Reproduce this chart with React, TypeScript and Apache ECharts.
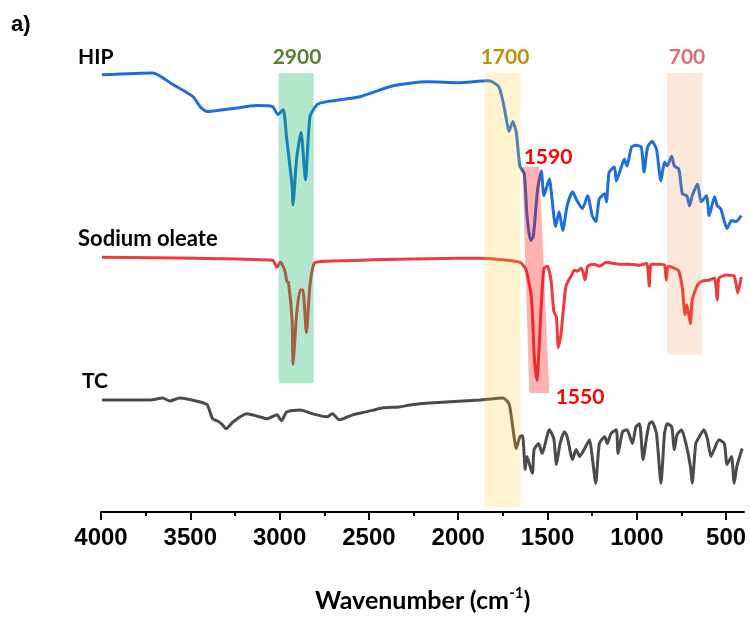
import React, { useEffect, useRef } from "react";
import * as echarts from "echarts";

// Wavenumbers (cm-1) and offset transmittance (a.u.)
const hipX = [3995, 3710, 3595, 3485, 3445, 3405, 3350, 3260, 3130, 3040, 3010, 2980, 2960, 2930, 2925, 2905, 2880, 2855, 2830, 2790, 2735, 2550, 2365, 2175, 1995, 1840, 1810, 1770, 1740, 1715, 1695, 1675, 1655, 1630, 1615, 1595, 1580, 1555, 1535, 1520, 1490, 1475, 1455, 1435, 1415, 1390, 1360, 1335, 1305, 1275, 1250, 1230, 1210, 1180, 1170, 1155, 1125, 1115, 1085, 1070, 1055, 1030, 1005, 975, 960, 940, 915, 890, 865, 845, 830, 805, 790, 765, 745, 720, 705, 690, 660, 640, 610, 595, 565, 550, 530, 510, 495, 470, 445, 415];
const hipY = [441, 443, 431, 419, 409, 404, 405, 407, 410, 409, 401, 406, 376, 329, 310, 356, 383, 335, 399, 411, 414, 419, 430, 434, 433, 435, 434, 428, 406, 384, 394, 383, 349, 341, 299, 274, 278, 326, 344, 319, 336, 316, 288, 303, 284, 309, 323, 314, 306, 319, 299, 293, 316, 321, 313, 343, 348, 334, 349, 356, 349, 368, 370, 368, 343, 368, 374, 366, 334, 353, 349, 359, 349, 346, 321, 319, 309, 319, 331, 313, 319, 299, 318, 309, 306, 293, 286, 294, 293, 299];

const oleateX = [3995, 3040, 3015, 2995, 2970, 2960, 2950, 2930, 2925, 2905, 2885, 2870, 2850, 2830, 2805, 2735, 2330, 1995, 1880, 1655, 1620, 1590, 1575, 1560, 1535, 1520, 1500, 1480, 1465, 1450, 1440, 1425, 1405, 1395, 1365, 1350, 1335, 1310, 1290, 1275, 1240, 1210, 1170, 1135, 1100, 1040, 985, 945, 930, 920, 875, 845, 835, 825, 790, 765, 745, 730, 720, 700, 690, 660, 635, 595, 565, 550, 540, 500, 455, 435, 415];
const oleateY = [257, 254, 247, 252, 243, 233, 231, 193, 149, 199, 224, 224, 181, 229, 251, 253, 255, 256, 256, 252, 244, 216, 159, 133, 209, 246, 248, 233, 203, 196, 166, 179, 216, 229, 239, 244, 243, 246, 234, 248, 250, 248, 252, 251, 250, 250, 249, 251, 228, 250, 250, 249, 234, 248, 246, 243, 226, 199, 209, 190, 214, 229, 233, 234, 236, 214, 236, 239, 238, 221, 237];

const tcX = [3995, 3725, 3655, 3615, 3560, 3445, 3405, 3375, 3350, 3325, 3300, 3260, 3185, 3110, 3070, 3015, 2990, 2960, 2885, 2815, 2735, 2705, 2665, 2590, 2515, 2425, 2330, 2270, 2160, 1880, 1750, 1715, 1695, 1675, 1655, 1640, 1625, 1615, 1585, 1575, 1550, 1530, 1490, 1465, 1450, 1430, 1405, 1390, 1360, 1340, 1320, 1295, 1265, 1250, 1230, 1210, 1180, 1165, 1145, 1115, 1105, 1080, 1055, 1025, 1005, 985, 965, 945, 930, 915, 890, 865, 845, 830, 805, 790, 775, 750, 725, 700, 690, 670, 650, 625, 605, 585, 565, 540, 510, 495, 470, 455, 440, 410];
const tcY = [113, 113, 115, 112, 115, 111, 108, 94, 92, 89, 84, 91, 99, 96, 94, 98, 92, 101, 103, 99, 96, 99, 93, 98, 101, 105, 106, 108, 110, 113, 115, 109, 86, 64, 76, 77, 43, 56, 39, 63, 69, 59, 83, 74, 48, 69, 81, 76, 53, 63, 56, 63, 73, 56, 29, 69, 76, 69, 79, 83, 59, 81, 83, 69, 86, 89, 53, 76, 89, 91, 79, 29, 79, 89, 86, 63, 78, 83, 69, 46, 29, 69, 76, 83, 74, 56, 64, 73, 69, 48, 56, 29, 46, 64];

const seriesNames = ["HIP", "Sodium oleate", "TC"];

// Highlighted bands (cm-1)
const bandLabels = ["2900", "1700", "700", "1590"];
const bandTopFrom = [3005, 1853, 830, 1641];
const bandTopTo = [2809, 1652, 634, 1546];
const bandBottomFrom = [3005, 1853, 830, 1602];
const bandBottomTo = [2809, 1652, 634, 1490];
const bandTopLevel = [443, 443, 443, 348];
const bandBottomLevel = [130, 5, 159, 120];

const majorTicks = [500, 1000, 1500, 2000, 2500, 3000, 3500, 4000];
const minorTicks = [750, 1250, 1750, 2250, 2750, 3250, 3750];

const zip = (xs: number[], ys: number[]) => xs.map((x, i) => [x, ys[i]]);

export default function App() {
  const ref = useRef<HTMLDivElement>(null);
  useEffect(() => {
    if (!ref.current) return;
    const chart = echarts.init(ref.current, undefined, { renderer: "svg" });
    const bandFill = [
      "rgba(0,176,90,0.30)",
      "rgba(255,200,40,0.22)",
      "rgba(237,125,49,0.18)",
      "rgba(255,0,0,0.30)",
    ];
    const bandData = bandLabels.map((_, i) => [
      bandTopFrom[i], bandTopTo[i], bandBottomFrom[i], bandBottomTo[i], bandTopLevel[i], bandBottomLevel[i],
    ]);
    const lab = (text: string, x: number, y: number, color: string, align = "center", size = 21) => ({
      type: "text",
      x,
      y,
      style: {
        text,
        fill: color,
        font: `bold ${size}px Lato`,
        textAlign: align,
        textVerticalAlign: "middle",
      },
    });
    chart.setOption({
      animation: false,
      grid: { left: 101, right: 6, top: 60, bottom: 103 },
      xAxis: [
        {
          type: "value",
          min: 400,
          max: 4000,
          inverse: true,
          position: "bottom",
          splitLine: { show: false },
          axisLine: { show: true, lineStyle: { color: "#000", width: 2 } },
          axisTick: { show: true, customValues: majorTicks, length: 8, lineStyle: { color: "#000", width: 2 } },
          axisLabel: {
            customValues: majorTicks,
            formatter: (v: number) => String(v),
            margin: 12,
            color: "#000",
            fontFamily: "Liberation Sans",
            fontWeight: "bold",
            fontSize: 24,
          },
          name: "Wavenumber (cm{sup|-1})",
          nameLocation: "middle",
          nameGap: 72,
          nameTextStyle: {
            color: "#000",
            fontFamily: "Lato",
            fontWeight: "bold",
            fontSize: 25,
            lineHeight: 30,
            rich: {
              sup: { fontFamily: "Lato", fontWeight: "bold", fontSize: 15, verticalAlign: "top", lineHeight: 15, color: "#000" },
            },
          },
        },
        {
          type: "value",
          min: 400,
          max: 4000,
          inverse: true,
          position: "bottom",
          splitLine: { show: false },
          axisLine: { show: false },
          axisLabel: { show: false },
          axisTick: { show: true, customValues: minorTicks, length: 4, lineStyle: { color: "#000", width: 2 } },
        },
      ],
      yAxis: { type: "value", min: 0, max: 456, show: false },
      series: [
        {
          name: seriesNames[0], type: "line", data: zip(hipX, hipY), showSymbol: false, smooth: 0.2,
          lineStyle: { color: "#1f6fdb", width: 3 }, z: 2,
        },
        {
          name: seriesNames[1], type: "line", data: zip(oleateX, oleateY), showSymbol: false, smooth: 0.2,
          lineStyle: { color: "#f0393b", width: 3 }, z: 2,
        },
        {
          name: seriesNames[2], type: "line", data: zip(tcX, tcY), showSymbol: false, smooth: 0.2,
          lineStyle: { color: "#4b4b4b", width: 3 }, z: 2,
        },
        {
          type: "custom",
          z: 5,
          silent: true,
          data: bandData,
          encode: { x: [0, 1, 2, 3], y: [4, 5] },
          renderItem: (params: any, api: any) => {
            const p1 = api.coord([api.value(0), api.value(4)]);
            const p2 = api.coord([api.value(1), api.value(4)]);
            const p3 = api.coord([api.value(3), api.value(5)]);
            const p4 = api.coord([api.value(2), api.value(5)]);
            return {
              type: "polygon",
              shape: { points: [p1, p2, p3, p4] },
              style: { fill: bandFill[params.dataIndex] },
            };
          },
        },
      ],
      graphic: [
        { type: "text", x: 11, y: 12, style: { text: "a)", fill: "#000", font: "bold 22px 'Liberation Sans'" } },
        lab(seriesNames[0], 78, 55, "#000", "left", 21),
        lab(seriesNames[1], 78, 237, "#000", "left", 22),
        lab(seriesNames[2], 82, 379, "#000", "left", 21),
        lab(bandLabels[0], 297, 55, "#548235"),
        lab(bandLabels[1], 505, 55, "#bf9000"),
        lab(bandLabels[2], 687, 55, "#d9706e"),
        lab(bandLabels[3], 548, 155, "#ff0000"),
        lab("1550", 580, 395, "#ff0000"),
      ],
    });
    return () => chart.dispose();
  }, []);
  return <div ref={ref} style={{ position: "fixed", left: 0, top: 0, width: 750, height: 619 }} />;
}
